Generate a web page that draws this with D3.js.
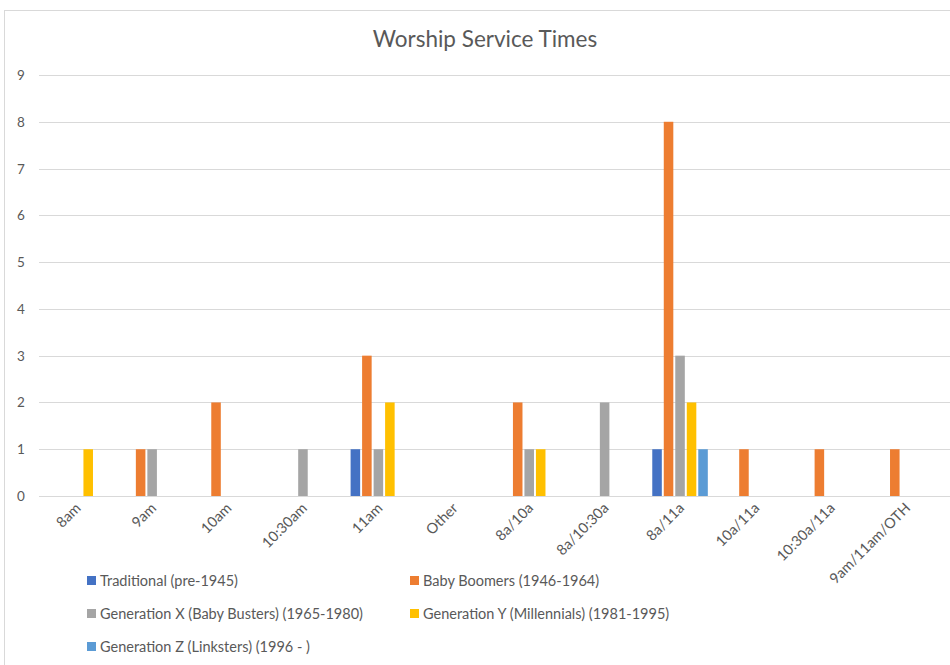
<!DOCTYPE html>
<html>
<head>
<meta charset="utf-8">
<script src="https://cdn.jsdelivr.net/npm/d3@7"></script>
<style>
  html, body { margin: 0; padding: 0; background: #fff; }
  svg { display: block; }
  text { font-family: Lato, "Open Sans", sans-serif; fill: #595959; }
</style>
</head>
<body>
<svg id="chart" width="950" height="665"></svg>
<script>
// Service time slots
const categories = ["8am", "9am", "10am", "10:30am", "11am", "Other", "8a/10a", "8a/10:30a", "8a/11a", "10a/11a", "10:30a/11a", "9am/11am/OTH"];

// Generations
const seriesNames = [
  "Traditional (pre-1945)",
  "Baby Boomers (1946-1964)",
  "Generation X (Baby Busters) (1965-1980)",
  "Generation Y (Millennials) (1981-1995)",
  "Generation Z (Linksters) (1996 - )"
];
const seriesColors = ["#4472C4", "#ED7D31", "#A5A5A5", "#FFC000", "#5B9BD5"];

// Responses per slot, one array per generation
const traditional = [0, 0, 0, 0, 1, 0, 0, 0, 1, 0, 0, 0];
const babyBoomers = [0, 1, 2, 0, 3, 0, 2, 0, 8, 1, 1, 1];
const generationX = [0, 1, 0, 1, 1, 0, 1, 2, 3, 0, 0, 0];
const generationY = [1, 0, 0, 0, 2, 0, 1, 0, 2, 0, 0, 0];
const generationZ = [0, 0, 0, 0, 0, 0, 0, 0, 1, 0, 0, 0];

const yTicks = [0, 1, 2, 3, 4, 5, 6, 7, 8, 9];

const seriesValues = [traditional, babyBoomers, generationX, generationY, generationZ];

const svg = d3.select("#chart");

// Chart frame
svg.append("rect")
  .attr("x", 4.5).attr("y", 10.5)
  .attr("width", 960).attr("height", 700)
  .attr("fill", "none").attr("stroke", "#d9d9d9").attr("stroke-width", 1);

svg.append("text")
  .attr("x", 485).attr("y", 47)
  .attr("text-anchor", "middle")
  .attr("font-size", 22.5)
  .text("Worship Service Times");

const plot = { left: 39, right: 944, top: 75, bottom: 496 };

const x = d3.scaleBand()
  .domain(categories)
  .range([plot.left, plot.right])
  .paddingInner(0).paddingOuter(0);

const xInner = d3.scaleBand()
  .domain(d3.range(seriesNames.length))
  .range([x.bandwidth() / 2 - 28.75, x.bandwidth() / 2 + 28.75])
  .paddingInner(0.17).paddingOuter(0.085);

const y = d3.scaleLinear().domain([0, 9]).range([plot.bottom, plot.top]);

// Gridlines
svg.append("g")
  .selectAll("line")
  .data(yTicks)
  .join("line")
  .attr("x1", plot.left).attr("x2", 950)
  .attr("y1", d => Math.round(y(d)) + 0.5)
  .attr("y2", d => Math.round(y(d)) + 0.5)
  .attr("stroke", "#d9d9d9").attr("stroke-width", 1);

// Y-axis labels
svg.append("g")
  .selectAll("text")
  .data(yTicks)
  .join("text")
  .attr("x", 21)
  .attr("y", d => y(d) + 5)
  .attr("text-anchor", "middle")
  .attr("font-size", 13.5)
  .text(d => d);

// Bars
const groups = svg.append("g")
  .selectAll("g")
  .data(categories)
  .join("g")
  .attr("transform", d => `translate(${x(d)},0)`);

groups.selectAll("rect")
  .data((c, ci) => seriesValues.map((vals, si) => ({ si, v: vals[ci] })).filter(d => d.v > 0))
  .join("rect")
  .attr("x", d => xInner(d.si))
  .attr("width", xInner.bandwidth())
  .attr("y", d => y(d.v))
  .attr("height", d => y(0) - y(d.v))
  .attr("fill", d => seriesColors[d.si]);

// X-axis labels, rotated
svg.append("g")
  .selectAll("text")
  .data(categories)
  .join("text")
  .attr("transform", d => `translate(${x(d) + x.bandwidth() / 2 + 5},${plot.bottom + 13}) rotate(-45)`)
  .attr("text-anchor", "end")
  .attr("font-size", 14.5)
  .text(d => d);

// Legend
const legendPos = [
  { x: 87, y: 581 }, { x: 410, y: 581 },
  { x: 87, y: 614 }, { x: 410, y: 614 },
  { x: 87, y: 647 }
];
const legend = svg.append("g")
  .selectAll("g")
  .data(seriesNames)
  .join("g")
  .attr("transform", (d, i) => `translate(${legendPos[i].x},${legendPos[i].y})`);
legend.append("rect")
  .attr("x", 0).attr("y", -5).attr("width", 9).attr("height", 9)
  .attr("fill", (d, i) => seriesColors[i]);
legend.append("text")
  .attr("x", 13).attr("y", 5)
  .attr("font-size", 14.5)
  .text(d => d);
</script>
</body>
</html>
